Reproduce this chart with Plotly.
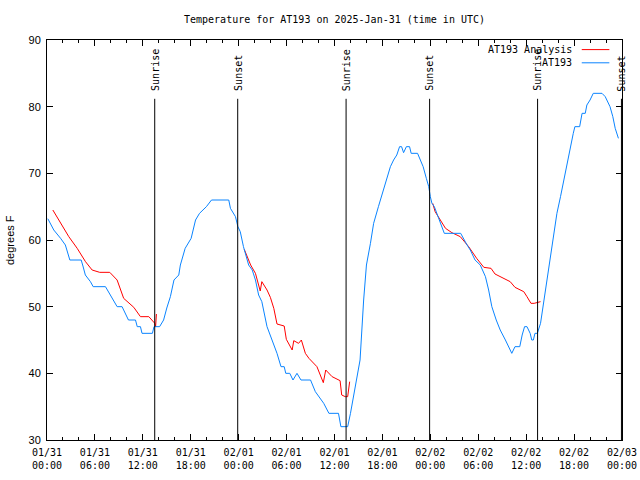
import pandas as pd
import plotly.graph_objects as go

BASE = pd.Timestamp("2025-01-31 00:00")

# AT193 observations: hours since 2025-01-31 00:00 UTC, degrees F
obs_hours = [0.1, 0.85, 1.7, 2.3, 2.86, 4.28, 4.5, 4.8, 5.44, 5.78, 7.32, 7.95, 8.78, 9.4,
             10.2, 11.08, 11.3, 11.7, 11.9, 13.2, 13.4, 14.1, 14.6, 15.0, 15.45, 15.9, 16.5,
             16.7, 17.3, 18.05, 18.6, 19.1, 19.96, 20.6, 22.76, 22.97, 23.6, 23.9, 24.2, 24.6,
             25.25, 25.7, 26.1, 26.5, 26.9, 27.55, 27.97, 28.5, 28.8, 29.3, 29.7, 29.9, 30.4,
             30.8, 31.3, 31.8, 33.0, 33.6, 34.65, 35.3, 36.5, 36.8, 37.65, 38.0, 38.6, 39.2,
             39.65, 39.86, 40.0, 40.5, 40.9, 41.5, 42.15, 42.65, 43.0, 43.4, 43.8, 44.15, 44.4,
             44.65, 45.0, 45.4, 45.6, 46.4, 46.75, 47.1, 47.5, 47.8, 48.0, 48.2, 48.5, 48.8,
             49.25, 49.75, 51.8, 52.2, 52.6, 53.0, 53.6, 54.25, 54.9, 55.3, 55.7, 56.25, 56.75,
             57.4, 57.8, 58.2, 58.6, 59.2, 59.5, 59.8, 60.1, 60.5, 60.7, 60.9, 61.1, 61.4, 61.8,
             62.4, 63.0, 63.4, 63.85, 64.3, 64.7, 65.1, 65.5, 65.9, 66.1, 66.7, 67.0, 67.4, 67.6,
             68.0, 68.4, 69.5, 69.9, 70.5, 70.85, 71.15, 71.55]
obs_temp = [63.2, 61.5, 60.25, 59.25, 57, 57, 56.1, 54.75, 53.75, 53, 53, 51.75, 50, 50,
            48, 48, 47, 47, 46, 46, 47, 47, 48, 49.8, 51.5, 54, 54.75,
            56.25, 58.75, 60.25, 63, 64, 65, 66, 66, 64.75, 63.5, 62, 61.25, 59,
            56.25, 55.5, 54, 51.75, 50.75, 47, 45.75, 44, 43, 41, 41, 40, 40,
            39, 40, 39, 39, 37.25, 35.5, 34, 34, 32, 32, 34, 38, 42,
            51, 54.75, 56.25, 59.5, 62.5, 65, 67.5, 69.5, 71, 72, 72.75, 74, 74,
            73.1, 74, 74, 73, 73, 72, 71, 69.25, 68, 66.5, 65.5, 65, 64,
            62.5, 61, 61, 60, 59.25, 58.5, 57, 56.25, 54.5, 52.5, 50, 48, 46.5,
            45, 44, 43, 44, 44, 45.75, 47, 47, 46, 45, 45, 46, 46, 47.5,
            52.5, 57.5, 61, 64, 66.5, 69, 71, 73.5, 76, 77, 77, 79, 79, 80.25,
            81, 82, 82, 81.5, 80, 78.5, 76.75, 75.25]

# AT193 Analysis (None = gap)
ana_hours = [0.73, 1.69, 2.73, 3.78, 4.82, 5.65, 6.6, 7.86, 8.78, 9.6, 10.87, 11.7, 12.75,
             13.5, 13.6, 13.7, 13.8,
             24.7, 25.5, 26.1, 26.5, 26.7, 26.9, 27.55, 27.97, 28.4, 28.8, 29.7, 29.97, 30.7,
             30.9, 31.5, 31.85, 32.35, 32.8, 33.8, 34.6, 34.9, 35.7, 36.5, 36.7, 36.9, 37.35,
             37.65, 37.9, 38.0,
             48.3, 48.6, 49.25, 49.9, 50.7, 51.75, 52.8, 53.8, 54.7, 55.6, 56.1, 57.2, 58.0,
             58.6, 59.7, 60.1, 60.6, 61.0, 61.55, 61.8]
ana_temp = [64.5, 62.5, 60.5, 58.75, 56.75, 55.5, 55.15, 55.15, 54, 51.25, 49.9, 48.5, 48.5,
            47.5, 47, 48.9, None,
            58.6, 56.25, 55, 53, 52.35, 53.75, 52.5, 51.4, 49.75, 47.4, 47.1, 45.1, 43.5,
            44.9, 44.5, 45, 43, 42.25, 41, 38.6, 40.5, 39.5, 39, 38.9, 36.75, 36.5,
            36.5, 38.75, None,
            65.5, 64.25, 63, 61.75, 61.1, 60.5, 59, 57.25, 55.9, 55.75, 54.9, 54.25, 53.75,
            52.9, 52.25, 51.5, 50.5, 50.5, 50.75, 50.75]

sun_hours = [13.49, 23.88, 37.45, 47.91, 61.43, 71.93]
sun_labels = ["Sunrise", "Sunset", "Sunrise", "Sunset", "Sunrise", "Sunset"]

y_ticks = [30, 40, 50, 60, 70, 80, 90]


def to_time(hours):
    return [None if h is None else BASE + pd.Timedelta(hours=h) for h in hours]


MONO = "DejaVu Sans Mono"
SANS = "Liberation Sans"
RED = "#ff0000"
BLUE = "#0a84ff"

fig = go.Figure()
fig.add_trace(go.Scatter(x=to_time(ana_hours), y=ana_temp, mode="lines",
                         line=dict(color=RED, width=1), name="AT193 Analysis",
                         connectgaps=False))
fig.add_trace(go.Scatter(x=to_time(obs_hours), y=obs_temp, mode="lines",
                         line=dict(color=BLUE, width=1), name="AT193"))

for h, lab in zip(sun_hours, sun_labels):
    t = BASE + pd.Timedelta(hours=h)
    fig.add_shape(type="line", xref="x", yref="paper", x0=t, x1=t, y0=0, y1=0.853,
                  line=dict(color="black", width=1))
    fig.add_annotation(x=t, xref="x", y=0.867, yref="paper", text=lab, textangle=-90,
                       showarrow=False, xanchor="center", yanchor="bottom",
                       font=dict(family=MONO, size=10, color="black"))

# legend (gnuplot style: text right-aligned, sample on the right)
legend_items = [("AT193 Analysis", RED, 0.976), ("AT193", BLUE, 0.943)]
for txt, col, yy in legend_items:
    fig.add_annotation(x=0.917, xref="paper", y=yy, yref="paper", text=txt,
                       showarrow=False, xanchor="right", yanchor="middle",
                       font=dict(family=MONO, size=10, color="black"))
    fig.add_shape(type="line", xref="paper", yref="paper", x0=0.930, x1=0.978,
                  y0=yy, y1=yy, line=dict(color=col, width=1))

# y-axis label placed as text
fig.add_annotation(x=-(47 - 10) / 575, xref="paper", y=0.5, yref="paper", text="degrees F",
                   textangle=-90, showarrow=False, xanchor="center", yanchor="middle",
                   font=dict(family=SANS, size=11, color="black"))

fig.update_layout(
    width=640, height=480,
    margin=dict(l=47, r=18, t=40, b=40, autoexpand=False),
    paper_bgcolor="white", plot_bgcolor="white",
    showlegend=False,
    title=dict(text="Temperature for AT193 on 2025-Jan-31 (time in UTC)",
               x=0.5, xref="paper", xanchor="center", y=1 - 19 / 480, yref="container",
               yanchor="middle", font=dict(family=MONO, size=10, color="black")),
    font=dict(family=MONO, size=10, color="black"),
)
fig.update_xaxes(
    range=[BASE, BASE + pd.Timedelta(hours=72)],
    automargin=False,
    showgrid=False, zeroline=False,
    showline=True, linecolor="black", linewidth=1, mirror="allticks",
    ticks="inside", ticklen=6, tickcolor="black", tickwidth=1,
    dtick=6 * 3600 * 1000, tick0=BASE, tickformat="%m/%d<br>%H:%M",
    tickfont=dict(family=MONO, size=10, color="black"),
    ticklabelstandoff=3,
    minor=dict(dtick=2 * 3600 * 1000, ticks="inside", ticklen=3, tickcolor="black",
               showgrid=False),
)
fig.update_yaxes(
    range=[30, 90],
    automargin=False,
    showgrid=False, zeroline=False,
    showline=True, linecolor="black", linewidth=1, mirror="allticks",
    ticks="inside", ticklen=6, tickcolor="black", tickwidth=1,
    tickvals=y_ticks, ticktext=[str(v) for v in y_ticks],
    tickfont=dict(family=SANS, size=11, color="black"),
    ticklabelstandoff=3,
)

fig.write_html("out.html", config={"displayModeBar": False},
               post_script="document.body.style.margin='0';")
